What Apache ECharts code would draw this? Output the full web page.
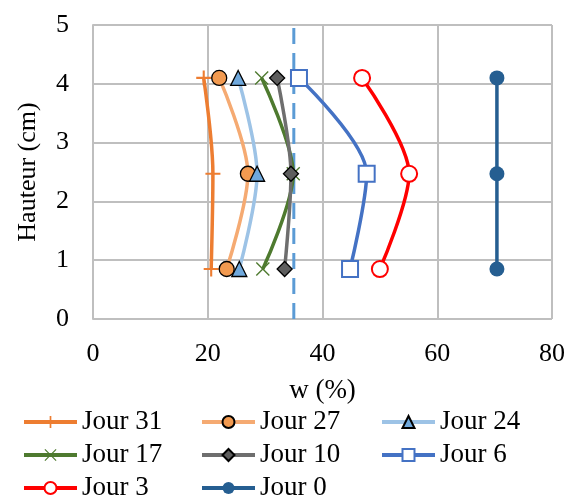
<!DOCTYPE html>
<html><head><meta charset="utf-8">
<script src="https://cdn.jsdelivr.net/npm/echarts@6/dist/echarts.min.js"></script>
<style>html,body{margin:0;padding:0;background:#fff}#c{width:571px;height:500px}</style>
</head><body><div id="c"></div>
<script>
const heights = [0.85, 2.47, 4.10];
const names = ['Jour 31','Jour 27','Jour 24','Jour 17','Jour 10','Jour 6','Jour 3','Jour 0'];
const j31 = [20.6, 20.9, 19.3];
const j27 = [23.3, 27.0, 22.0];
const j24 = [25.5, 28.6, 25.3];
const j17 = [29.6, 34.9, 29.4];
const j10 = [33.4, 34.5, 32.1];
const j6  = [44.8, 47.7, 35.9];
const j3  = [50.0, 55.1, 46.9];
const j0  = [70.4, 70.4, 70.4];
const limitW = [35, 35];
const limitH = [0, 5];

const FONT = 'Liberation Serif';
const plusPath = 'path://M4.3,0H5.7V4.3H10V5.7H5.7V10H4.3V5.7H0V4.3H4.3Z';
const xPath = 'path://M0.7,0L5,4.3L9.3,0L10,0.7L5.7,5L10,9.3L9.3,10L5,5.7L0.7,10L0,9.3L4.3,5L0,0.7Z';

function pts(xs){ return xs.map((x,i)=>[x, heights[i]]); }

function mk(name, xs, lineColor, symbol, size, fill, border, bw, smooth){
  return {
    name, type:'line', data: pts(xs), smooth: smooth,
    symbol, symbolSize: size,
    lineStyle:{color: lineColor, width: 3.5},
    itemStyle:{color: fill, borderColor: border, borderWidth: bw},
    z: 3
  };
}

const S = 0.3;
const series = [
  {name:'limit', type:'line', data: limitW.map((w,i)=>[w, limitH[i]]), symbol:'none',
   lineStyle:{color:'#5B9BD5', width:3, type:[16,9]}, z:2, silent:true},
  mk('Jour 31', j31, '#ED7D31', plusPath, 15, '#ED7D31', '#ED7D31', 0, S),
  mk('Jour 27', j27, '#F5AA72', 'circle', 15, '#F29A50', '#000', 1.3, S),
  mk('Jour 24', j24, '#9DC3E6', 'triangle', 15, '#6FA8DC', '#000', 1.3, S),
  mk('Jour 17', j17, '#4E7A2F', xPath, 14, '#4E7A2F', '#4E7A2F', 0, S),
  mk('Jour 10', j10, '#6E6E6E', 'diamond', 15, '#5E5E5E', '#000', 1.3, S),
  mk('Jour 6', j6, '#4472C4', 'emptyRect', 16, '#4472C4', '#4472C4', 1.5, S),
  mk('Jour 3', j3, '#FF0000', 'emptyCircle', 16, '#FF0000', '#FF0000', 1.5, S),
  mk('Jour 0', j0, '#255E91', 'circle', 15, '#255E91', '#255E91', 0, false)
];

const colX = [22, 200, 380];
const rowY = [422, 455, 488];
const legendLayout = [
  ['Jour 31',0,0],['Jour 27',1,0],['Jour 24',2,0],
  ['Jour 17',0,1],['Jour 10',1,1],['Jour 6',2,1],
  ['Jour 3',0,2],['Jour 0',1,2]
];
const LFS = 27;
const legends = legendLayout.map(([n,c,r])=>({
  data:[n], left: colX[c], top: rowY[r] - LFS/2, padding:0,
  itemWidth: 53, itemHeight: 15, itemGap: 0,
  lineStyle:{width: 4},
  textStyle:{fontFamily: FONT, fontSize: LFS, color:'#000', lineHeight: LFS},
  selectedMode:false
}));

const chart = echarts.init(document.getElementById('c'), null, {renderer:'canvas'});
chart.setOption({
  animation:false,
  backgroundColor:'#fff',
  grid:{left:93, right:19, top:25, bottom:181},
  xAxis:{type:'value', min:0, max:80, interval:20,
    name:'w (%)', nameLocation:'middle', nameGap:58,
    nameTextStyle:{fontFamily:FONT, fontSize:27, color:'#000'},
    axisLine:{show:false}, axisTick:{show:false},
    axisLabel:{fontFamily:FONT, fontSize:26, color:'#000', margin:22},
    splitLine:{show:true, lineStyle:{color:'#BFBFBF', width:2}}},
  yAxis:{type:'value', min:0, max:5, interval:1,
    name:'Hauteur (cm)', nameLocation:'middle', nameGap:52, nameRotate:90,
    nameTextStyle:{fontFamily:FONT, fontSize:26, color:'#000'},
    axisLine:{show:true, lineStyle:{color:'#BFBFBF', width:2}}, axisTick:{show:false},
    axisLabel:{fontFamily:FONT, fontSize:26, color:'#000', margin:24},
    splitLine:{show:true, lineStyle:{color:'#BFBFBF', width:2}}},
  legend: legends,
  series
});
</script></body></html>
